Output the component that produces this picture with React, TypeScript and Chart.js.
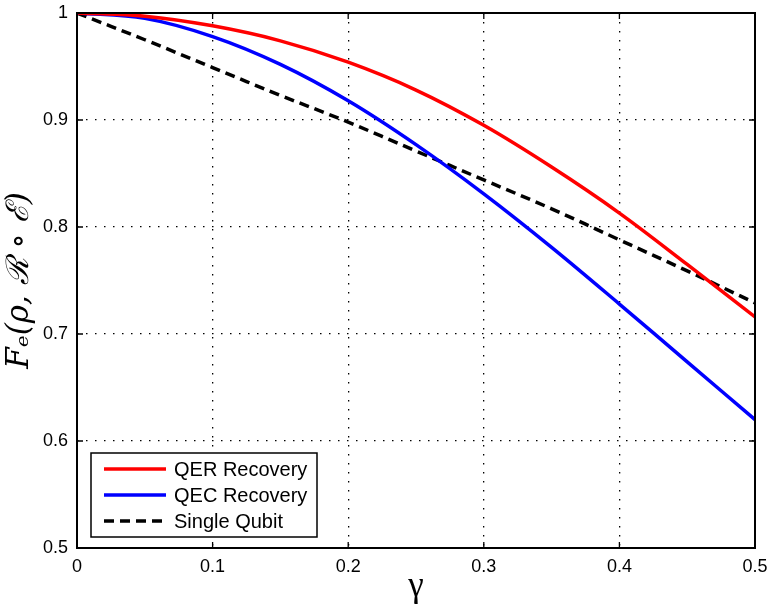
import React, { useEffect, useRef } from 'react';
import { Chart, registerables } from 'chart.js';

Chart.register(...registerables);

// gamma sample points and fidelity values
const gammaValues = [0, 0.05, 0.1, 0.15, 0.2, 0.25, 0.3, 0.35, 0.4, 0.45, 0.5];
const qerValues = [1, 0.997, 0.988, 0.974, 0.954, 0.928, 0.895, 0.856, 0.813, 0.765, 0.716];
const qecValues = [1, 0.995, 0.978, 0.952, 0.918, 0.877, 0.831, 0.781, 0.728, 0.674, 0.62];
const singleQubitValues = [1, 0.975, 0.949, 0.923, 0.898, 0.871, 0.844, 0.817, 0.788, 0.759, 0.729];

const xTickValues = [0, 0.1, 0.2, 0.3, 0.4, 0.5];
const yTickValues = [0.5, 0.6, 0.7, 0.8, 0.9, 1];

const seriesLabels = ['QER Recovery', 'QEC Recovery', 'Single Qubit'];

const toPoints = (ys: number[]) => gammaValues.map((x, i) => ({ x, y: ys[i] }));

// frame around the plot area, inward tick marks and a MATLAB-style legend box
const framePlugin = {
    id: 'frameAndLegend',
    afterDraw(chart: any) {
        const { ctx, chartArea, scales } = chart;
        const { left, top, right, bottom } = chartArea;
        ctx.save();

        // legend
        const boxX = left + 14;
        const boxY = bottom - 95;
        const boxW = 226;
        const boxH = 84;
        ctx.fillStyle = '#fff';
        ctx.fillRect(boxX, boxY, boxW, boxH);
        ctx.strokeStyle = '#000';
        ctx.lineWidth = 1.5;
        ctx.setLineDash([]);
        ctx.strokeRect(boxX, boxY, boxW, boxH);

        ctx.font = '20px "Liberation Sans", Arial, sans-serif';
        ctx.textBaseline = 'middle';
        ctx.textAlign = 'left';
        chart.data.datasets.forEach((ds: any, i: number) => {
            const y = boxY + 16 + i * 26;
            ctx.beginPath();
            ctx.strokeStyle = ds.borderColor;
            ctx.lineWidth = ds.borderWidth;
            ctx.setLineDash(ds.borderDash || []);
            ctx.moveTo(boxX + 13, y);
            ctx.lineTo(boxX + 75, y);
            ctx.stroke();
            ctx.fillStyle = '#000';
            ctx.fillText(ds.label, boxX + 83, y + 1);
        });

        // inward ticks
        ctx.setLineDash([]);
        ctx.strokeStyle = '#000';
        ctx.lineWidth = 1.3;
        const tickLen = 6;
        ctx.beginPath();
        xTickValues.forEach(v => {
            const px = scales.x.getPixelForValue(v);
            ctx.moveTo(px, bottom);
            ctx.lineTo(px, bottom - tickLen);
            ctx.moveTo(px, top);
            ctx.lineTo(px, top + tickLen);
        });
        yTickValues.forEach(v => {
            const py = scales.y.getPixelForValue(v);
            ctx.moveTo(left, py);
            ctx.lineTo(left + tickLen, py);
            ctx.moveTo(right, py);
            ctx.lineTo(right - tickLen, py);
        });
        ctx.stroke();

        // axes box
        ctx.lineWidth = 2;
        ctx.strokeRect(left, top, right - left, bottom - top);
        ctx.restore();
    },
};

const App: React.FC = () => {
    const chartRef = useRef<HTMLCanvasElement>(null);
    const chartInstance = useRef<Chart | null>(null);

    useEffect(() => {
        if (!chartRef.current) return;
        if (chartInstance.current) chartInstance.current.destroy();

        const ctx = chartRef.current.getContext('2d');
        if (!ctx) return;

        const tickFont = { family: '"Liberation Sans", Arial, sans-serif', size: 18 };

        chartInstance.current = new Chart(ctx, {
            type: 'line',
            data: {
                datasets: [
                    {
                        label: seriesLabels[0],
                        data: toPoints(qerValues),
                        borderColor: '#ff0000',
                        borderWidth: 3.5,
                        pointRadius: 0,
                        tension: 0.35,
                    },
                    {
                        label: seriesLabels[1],
                        data: toPoints(qecValues),
                        borderColor: '#0000ff',
                        borderWidth: 3.5,
                        pointRadius: 0,
                        tension: 0.35,
                    },
                    {
                        label: seriesLabels[2],
                        data: toPoints(singleQubitValues),
                        borderColor: '#000000',
                        borderWidth: 3.5,
                        borderDash: [10, 6],
                        pointRadius: 0,
                        tension: 0.35,
                    },
                ],
            },
            options: {
                animation: false,
                responsive: true,
                maintainAspectRatio: false,
                layout: { padding: { top: 13, right: 12, left: 0, bottom: 0 } },
                plugins: {
                    legend: { display: false },
                    tooltip: { enabled: false },
                },
                scales: {
                    x: {
                        type: 'linear',
                        min: 0,
                        max: 0.5,
                        afterBuildTicks: (scale: any) => {
                            scale.ticks = xTickValues.map(v => ({ value: v }));
                        },
                        afterFit: (scale: any) => {
                            scale.height = 60;
                            scale.paddingLeft = 0;
                            scale.paddingRight = 0;
                        },
                        ticks: {
                            color: '#000',
                            font: tickFont,
                            padding: 8,
                            maxRotation: 0,
                            callback: (v: any) => String(Number(Number(v).toFixed(1))),
                        },
                        grid: { color: '#000', lineWidth: 1.3, drawTicks: false },
                        border: { display: false, dash: [1.5, 7.5] },
                        title: {
                            display: true,
                            text: 'γ',
                            color: '#000',
                            font: { family: '"Liberation Serif", "DejaVu Serif", serif', size: 35 },
                            padding: { top: 0, bottom: 0 },
                        },
                    },
                    y: {
                        type: 'linear',
                        min: 0.5,
                        max: 1,
                        afterBuildTicks: (scale: any) => {
                            scale.ticks = yTickValues.map(v => ({ value: v }));
                        },
                        afterFit: (scale: any) => {
                            scale.width = 77;
                            scale.paddingTop = 0;
                            scale.paddingBottom = 0;
                        },
                        ticks: {
                            color: '#000',
                            font: tickFont,
                            padding: 9,
                            callback: (v: any) => String(Number(Number(v).toFixed(1))),
                        },
                        grid: { color: '#000', lineWidth: 1.3, drawTicks: false },
                        border: { display: false, dash: [1.5, 7.5] },
                        title: {
                            display: true,
                            text: 'Fₑ(ρ, ℛ ∘ ℰ)',
                            color: '#000',
                            font: { family: '"DejaVu Serif", serif', size: 31, style: 'italic' },
                            padding: { top: 1, bottom: 0 },
                        },
                    },
                },
            },
            plugins: [framePlugin],
        });

        return () => {
            if (chartInstance.current) {
                chartInstance.current.destroy();
                chartInstance.current = null;
            }
        };
    }, []);

    return (
        <div style={{ position: 'fixed', left: 0, top: 0, width: 767, height: 608, background: '#fff' }}>
            <canvas ref={chartRef} />
        </div>
    );
};

export default App;
